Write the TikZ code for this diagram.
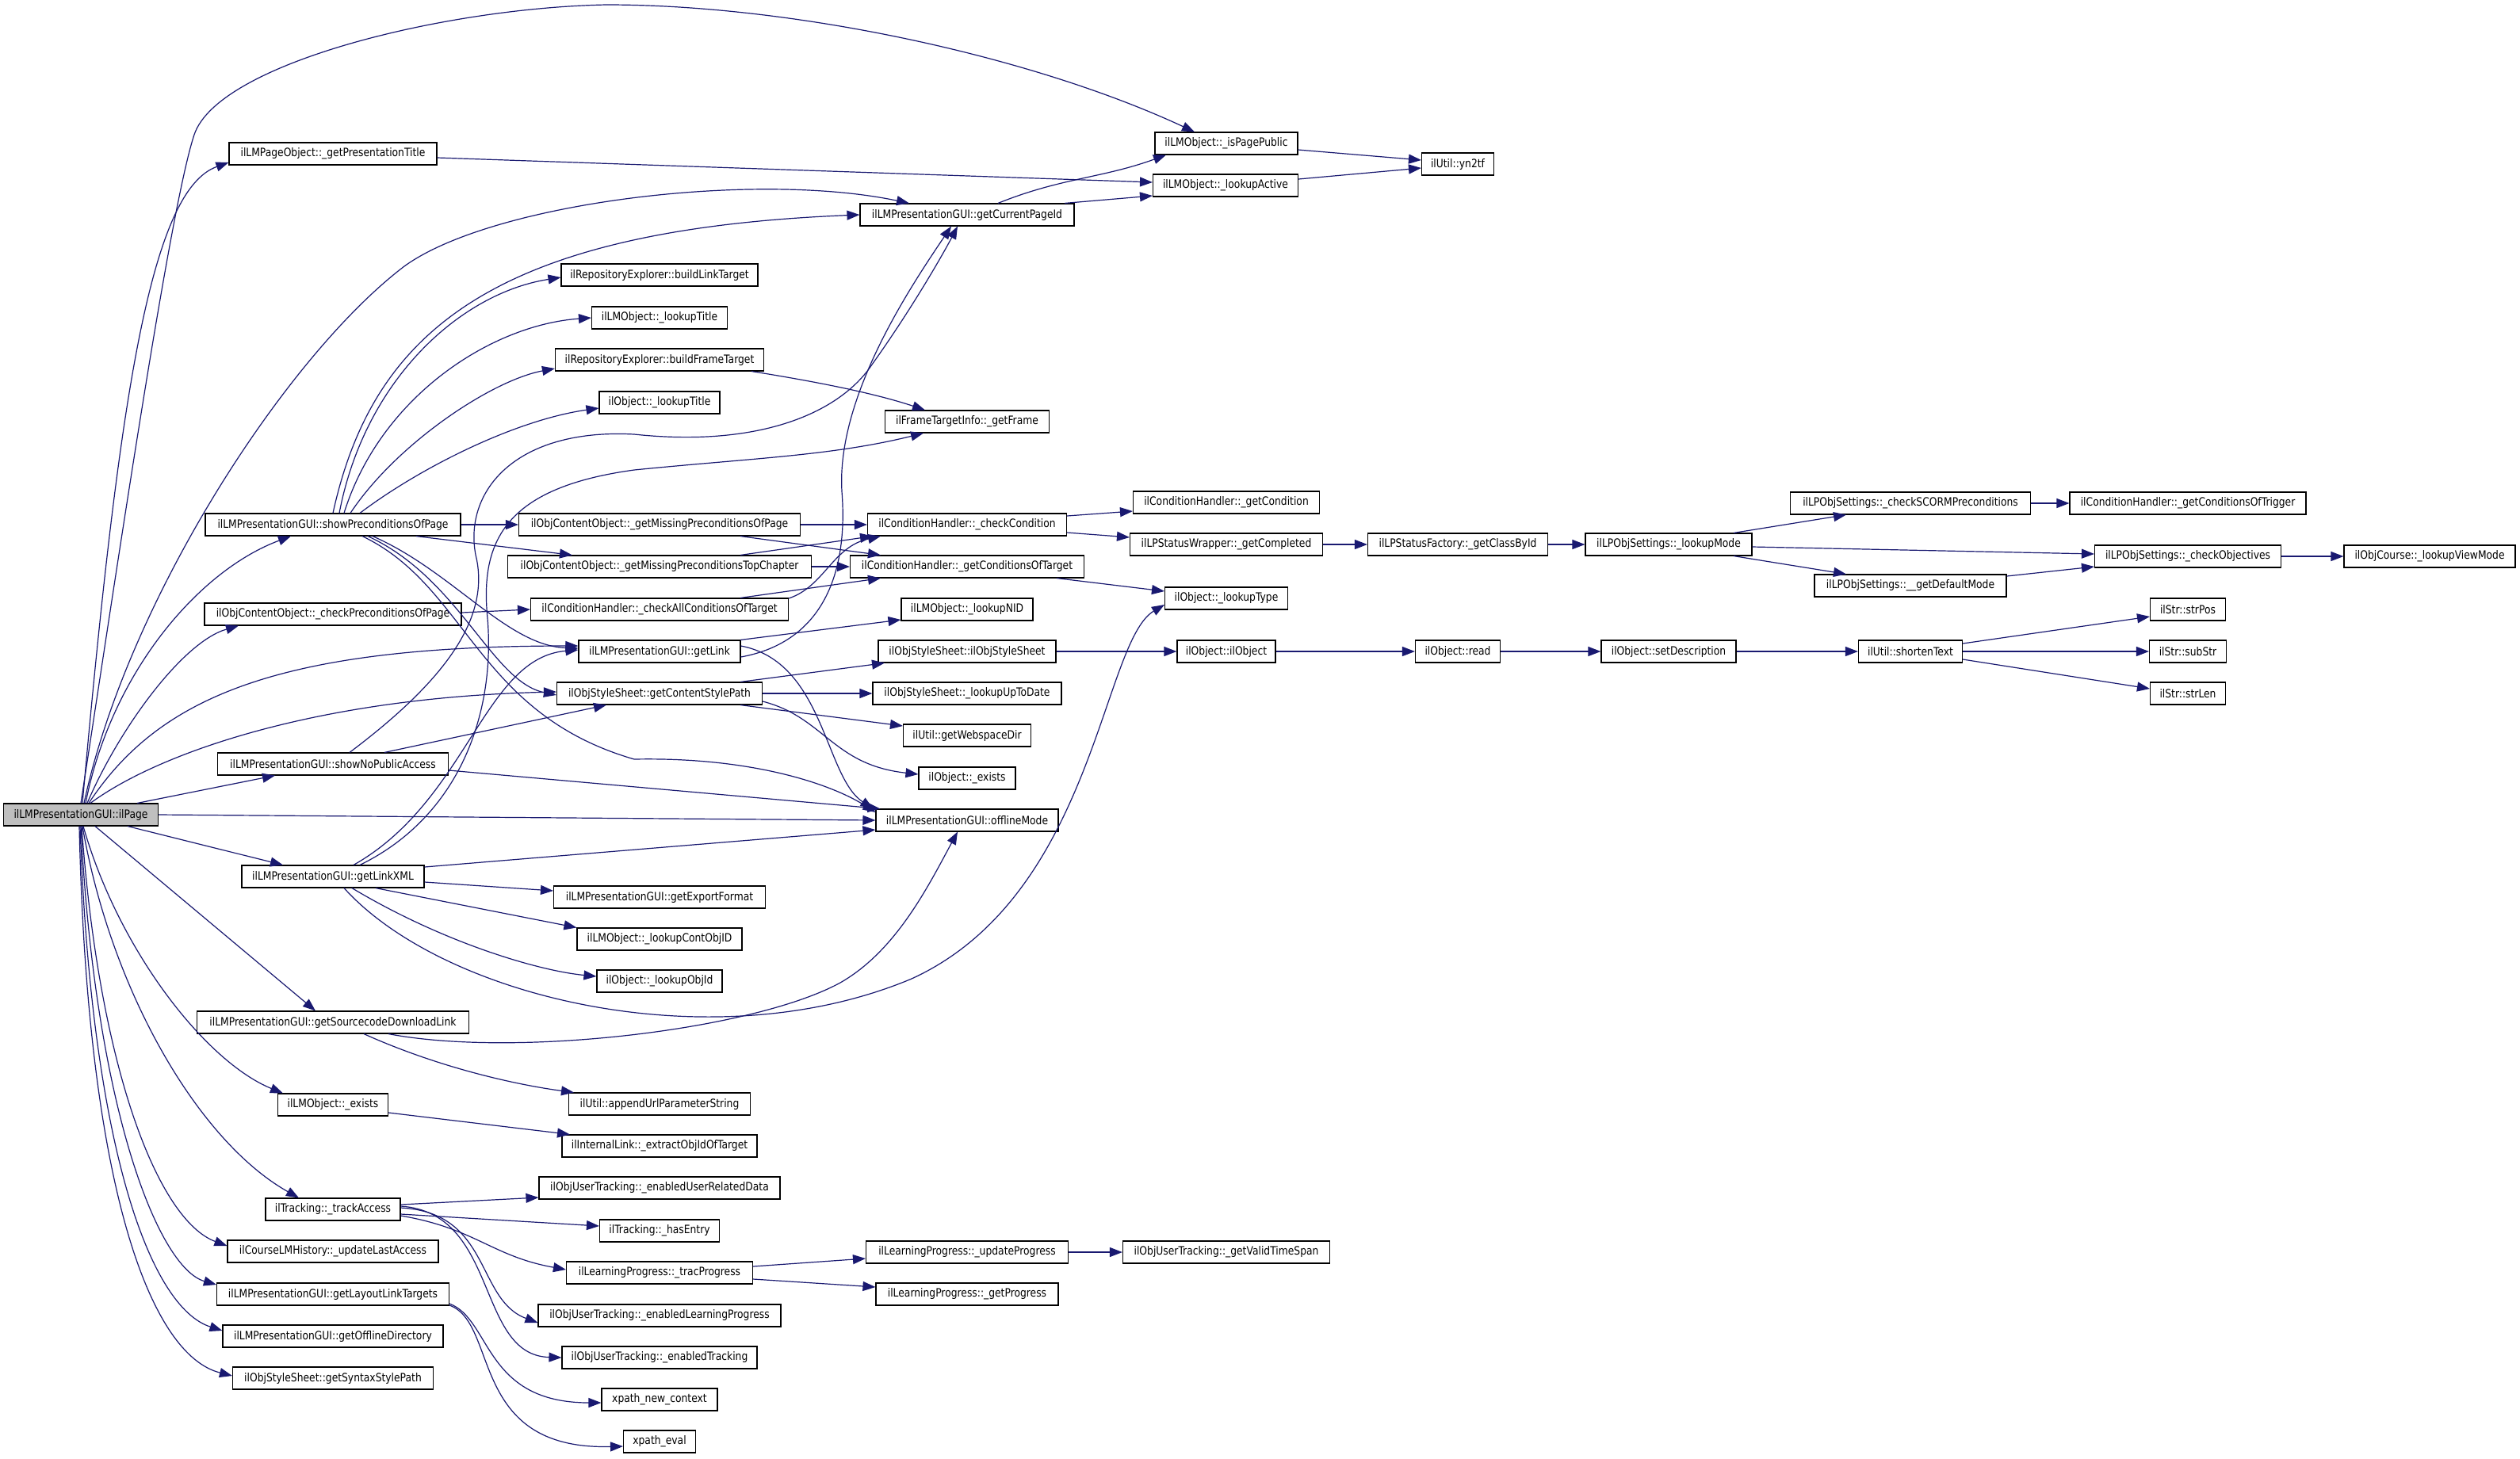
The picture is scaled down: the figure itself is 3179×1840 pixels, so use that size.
\documentclass[tikz,border=0pt]{standalone}
\usepackage{fontspec}
\setmainfont{DejaVu Sans}[FakeStretch=0.85]
\usetikzlibrary{arrows.meta}

\definecolor{callblue}{HTML}{191970}
\definecolor{curgray}{HTML}{BFBFBF}

\tikzset{
    fn/.style={rectangle, draw=black, line width=1.1pt, fill=white,
        minimum height=28pt, inner xsep=3pt, inner ysep=0pt,
        font=\fontsize{14.5}{16}\selectfont},
    cur/.style={fn, fill=curgray},
    call/.style={draw=callblue, line width=1.2pt,
        -{Triangle[length=16pt,width=12pt]}}
}

\begin{document}
\begin{tikzpicture}[x=1pt, y=-1pt]
    \useasboundingbox (0,0) rectangle (3179,1840);

    % caller
    \node[cur, minimum width=195pt] (ilpage) at (102,1028) {ilLMPresentationGUI::ilPage};

    % first level
    \node[fn, minimum width=262pt] (pgtitle) at (420,194) {ilLMPageObject::\_getPresentationTitle};
    \node[fn, minimum width=322pt] (showpre) at (420,662) {ilLMPresentationGUI::showPreconditionsOfPage};
    \node[fn, minimum width=324pt] (chkpre) at (420,775) {ilObjContentObject::\_checkPreconditionsOfPage};
    \node[fn, minimum width=291pt] (nopub) at (420,964) {ilLMPresentationGUI::showNoPublicAccess};
    \node[fn, minimum width=230pt] (linkxml) at (420,1106) {ilLMPresentationGUI::getLinkXML};
    \node[fn, minimum width=343pt] (srcdl) at (420,1290) {ilLMPresentationGUI::getSourcecodeDownloadLink};
    \node[fn, minimum width=139pt] (lmexists) at (420,1394) {ilLMObject::\_exists};
    \node[fn, minimum width=170pt] (track) at (420,1526) {ilTracking::\_trackAccess};
    \node[fn, minimum width=266pt] (lastacc) at (420,1579) {ilCourseLMHistory::\_updateLastAccess};
    \node[fn, minimum width=293pt] (layout) at (420,1633) {ilLMPresentationGUI::getLayoutLinkTargets};
    \node[fn, minimum width=278pt] (offdir) at (420,1686) {ilLMPresentationGUI::getOfflineDirectory};
    \node[fn, minimum width=253pt] (syntax) at (420,1739) {ilObjStyleSheet::getSyntaxStylePath};

    % second level
    \node[fn, minimum width=248pt] (blt) at (832,347) {ilRepositoryExplorer::buildLinkTarget};
    \node[fn, minimum width=171pt] (lmtitle) at (832,401) {ilLMObject::\_lookupTitle};
    \node[fn, minimum width=263pt] (bft) at (832,454) {ilRepositoryExplorer::buildFrameTarget};
    \node[fn, minimum width=152pt] (objtitle) at (832,508) {ilObject::\_lookupTitle};
    \node[fn, minimum width=355pt] (misspage) at (832,662) {ilObjContentObject::\_getMissingPreconditionsOfPage};
    \node[fn, minimum width=383pt] (misstop) at (832,715) {ilObjContentObject::\_getMissingPreconditionsTopChapter};
    \node[fn, minimum width=325pt] (chkall) at (832,769) {ilConditionHandler::\_checkAllConditionsOfTarget};
    \node[fn, minimum width=204pt] (getlink) at (832,822) {ilLMPresentationGUI::getLink};
    \node[fn, minimum width=259pt] (cstyle) at (832,875) {ilObjStyleSheet::getContentStylePath};
    \node[fn, minimum width=267pt] (expfmt) at (832,1132) {ilLMPresentationGUI::getExportFormat};
    \node[fn, minimum width=208pt] (contobj) at (832,1185) {ilLMObject::\_lookupContObjID};
    \node[fn, minimum width=158pt] (objid) at (832,1238) {ilObject::\_lookupObjId};
    \node[fn, minimum width=229pt] (appurl) at (832,1393) {ilUtil::appendUrlParameterString};
    \node[fn, minimum width=246pt] (extract) at (832,1446) {ilInternalLink::\_extractObjIdOfTarget};
    \node[fn, minimum width=304pt] (userdata) at (832,1499) {ilObjUserTracking::\_enabledUserRelatedData};
    \node[fn, minimum width=151pt] (hasentry) at (832,1553) {ilTracking::\_hasEntry};
    \node[fn, minimum width=235pt] (tracprog) at (832,1606) {ilLearningProgress::\_tracProgress};
    \node[fn, minimum width=306pt] (enlp) at (832,1660) {ilObjUserTracking::\_enabledLearningProgress};
    \node[fn, minimum width=246pt] (entrack) at (832,1713) {ilObjUserTracking::\_enabledTracking};
    \node[fn, minimum width=146pt] (xnew) at (832,1766) {xpath\_new\_context};
    \node[fn, minimum width=91pt] (xeval) at (832,1819) {xpath\_eval};

    % third level
    \node[fn, minimum width=270pt] (curpage) at (1220,271) {ilLMPresentationGUI::getCurrentPageId};
    \node[fn, minimum width=207pt] (frame) at (1220,532) {ilFrameTargetInfo::\_getFrame};
    \node[fn, minimum width=251pt] (chkcond) at (1220,662) {ilConditionHandler::\_checkCondition};
    \node[fn, minimum width=295pt] (condtgt) at (1220,715) {ilConditionHandler::\_getConditionsOfTarget};
    \node[fn, minimum width=166pt] (nid) at (1220,769) {ilLMObject::\_lookupNID};
    \node[fn, minimum width=224pt] (ssheet) at (1220,822) {ilObjStyleSheet::ilObjStyleSheet};
    \node[fn, minimum width=238pt] (uptodate) at (1220,875) {ilObjStyleSheet::\_lookupUpToDate};
    \node[fn, minimum width=161pt] (webdir) at (1220,928) {ilUtil::getWebspaceDir};
    \node[fn, minimum width=122pt] (objexists) at (1220,982) {ilObject::\_exists};
    \node[fn, minimum width=230pt] (offline) at (1220,1035) {ilLMPresentationGUI::offlineMode};
    \node[fn, minimum width=255pt] (updprog) at (1220,1580) {ilLearningProgress::\_updateProgress};
    \node[fn, minimum width=230pt] (getprog) at (1220,1633) {ilLearningProgress::\_getProgress};

    % further levels
    \node[fn, minimum width=180pt] (ispublic) at (1547,181) {ilLMObject::\_isPagePublic};
    \node[fn, minimum width=183pt] (active) at (1546,234) {ilLMObject::\_lookupActive};
    \node[fn, minimum width=235pt] (getcond) at (1547,634) {ilConditionHandler::\_getCondition};
    \node[fn, minimum width=243pt] (completed) at (1547,687) {ilLPStatusWrapper::\_getCompleted};
    \node[fn, minimum width=155pt] (lktype) at (1547,755) {ilObject::\_lookupType};
    \node[fn, minimum width=124pt] (ilobject) at (1547,822) {ilObject::ilObject};
    \node[fn, minimum width=261pt] (validts) at (1547,1580) {ilObjUserTracking::\_getValidTimeSpan};
    \node[fn, minimum width=91pt] (yn2tf) at (1839,207) {ilUtil::yn2tf};
    \node[fn, minimum width=227pt] (classid) at (1839,687) {ilLPStatusFactory::\_getClassById};
    \node[fn, minimum width=107pt] (objread) at (1839,822) {ilObject::read};
    \node[fn, minimum width=210pt] (lkmode) at (2105,687) {ilLPObjSettings::\_lookupMode};
    \node[fn, minimum width=170pt] (setdesc) at (2105,822) {ilObject::setDescription};
    \node[fn, minimum width=303pt] (scorm) at (2410,635) {ilLPObjSettings::\_checkSCORMPreconditions};
    \node[fn, minimum width=242pt] (defmode) at (2410,739) {ilLPObjSettings::\_\_getDefaultMode};
    \node[fn, minimum width=131pt] (shorten) at (2410,822) {ilUtil::shortenText};
    \node[fn, minimum width=298pt] (trigger) at (2760,635) {ilConditionHandler::\_getConditionsOfTrigger};
    \node[fn, minimum width=235pt] (objectives) at (2760,702) {ilLPObjSettings::\_checkObjectives};
    \node[fn, minimum width=95pt] (strpos) at (2760,769) {ilStr::strPos};
    \node[fn, minimum width=97pt] (substr) at (2760,822) {ilStr::subStr};
    \node[fn, minimum width=95pt] (strlen) at (2760,875) {ilStr::strLen};
    \node[fn, minimum width=216pt] (viewmode) at (3065,702) {ilObjCourse::\_lookupViewMode};

    % calls of ilPage
    \draw[call] (ilpage.north) .. controls (150,700) and (215,260) .. (245,170)
        .. controls (275,80) and (560,10) .. (765,6)
        .. controls (1000,6) and (1300,70) .. ([xshift=-40pt]ispublic.north);
    \draw[call] ([xshift=2pt]ilpage.north) .. controls (150,500) and (190,240) .. ([yshift=-11pt]pgtitle.west);
    \draw[call] ([xshift=4pt]ilpage.north) .. controls (160,760) and (360,450) .. (510,336)
        .. controls (620,256) and (950,215) .. ([xshift=-73pt]curpage.north);
    \draw[call] ([xshift=6pt]ilpage.north) .. controls (140,850) and (250,720) .. ([xshift=-53pt]showpre.south);
    \draw[call] ([xshift=8pt]ilpage.north) .. controls (150,920) and (230,810) .. ([xshift=-119pt]chkpre.south);
    \draw[call] ([xshift=10pt]ilpage.north) .. controls (200,880) and (350,815) .. ([yshift=7pt]getlink.west);
    \draw[call] ([xshift=12pt]ilpage.north) .. controls (200,950) and (400,880) .. ([yshift=2pt]cstyle.west);
    \draw[call] ([xshift=71pt]ilpage.north) -- ([xshift=-73pt]nopub.south);
    \draw[call] (ilpage.east) -- (offline.west);
    \draw[call] ([xshift=59pt]ilpage.south) -- ([xshift=-63pt]linkxml.north);
    \draw[call] ([xshift=18pt]ilpage.south) -- ([xshift=-22pt]srcdl.north);
    \draw[call] ([xshift=3pt]ilpage.south) .. controls (150,1200) and (260,1340) .. ([xshift=-63pt]lmexists.north);
    \draw[call] ([xshift=2pt]ilpage.south) .. controls (140,1250) and (250,1440) .. ([xshift=-43pt]track.north);
    \draw[call] ([xshift=1pt]ilpage.south) .. controls (125,1350) and (200,1540) .. ([yshift=7pt]lastacc.west);
    \draw[call] (ilpage.south) .. controls (120,1400) and (200,1600) .. ([yshift=12pt]layout.west);
    \draw[call] ([xshift=-1pt]ilpage.south) .. controls (115,1450) and (190,1650) .. ([yshift=7pt]offdir.west);
    \draw[call] ([xshift=-2pt]ilpage.south) .. controls (110,1500) and (190,1710) .. ([yshift=3pt]syntax.west);

    % page title and page id
    \draw[call] ([yshift=-5pt]pgtitle.east) -- ([yshift=4pt]active.west);
    \draw[call] ([xshift=39pt]curpage.north) to[out=22,in=200] ([xshift=-76pt]ispublic.south);
    \draw[call] ([xshift=123pt]curpage.north) -- ([yshift=-13pt]active.west);
    \draw[call] ([yshift=-8pt]ispublic.east) -- ([yshift=5pt]yn2tf.west);
    \draw[call] ([yshift=8pt]active.east) -- ([yshift=-5pt]yn2tf.west);

    % showPreconditionsOfPage
    \draw[call] (showpre.north) .. controls (470,420) and (620,290) .. (curpage.west);
    \draw[call] ([xshift=8pt]showpre.north) .. controls (460,480) and (580,370) .. ([yshift=-3pt]blt.west);
    \draw[call] ([xshift=14pt]showpre.north) .. controls (480,500) and (620,410) .. (lmtitle.west);
    \draw[call] ([xshift=22pt]showpre.north) .. controls (500,560) and (620,480) .. ([yshift=-11pt]bft.west);
    \draw[call] ([xshift=34pt]showpre.north) .. controls (530,590) and (650,530) .. ([yshift=-7pt]objtitle.west);
    \draw[call] (showpre.east) -- (misspage.west);
    \draw[call] ([xshift=105pt]showpre.south) -- ([xshift=-110pt]misstop.north);
    \draw[call] ([xshift=50pt]showpre.south) .. controls (570,720) and (640,815) .. ([yshift=4pt]getlink.west);
    \draw[call] ([xshift=44pt]showpre.south) .. controls (580,730) and (620,860) .. ([yshift=-2pt]cstyle.west);
    \draw[call] ([xshift=37pt]showpre.south) .. controls (590,740) and (600,900) .. (800,958)
        .. controls (950,955) and (1050,990) .. ([yshift=10pt]offline.west);

    % preconditions
    \draw[call] ([yshift=2pt]chkpre.east) -- (chkall.west);
    \draw[call] (misspage.east) -- (chkcond.west);
    \draw[call] ([xshift=102pt]misspage.south) -- ([xshift=-109pt]condtgt.north);
    \draw[call] ([xshift=102pt]misstop.north) -- ([xshift=-119pt]chkcond.south);
    \draw[call] (misstop.east) -- (condtgt.west);
    \draw[call] ([yshift=14pt]chkall.east) .. controls (1040,740) and (1050,690) .. ([xshift=-109pt]chkcond.south);
    \draw[call] ([xshift=102pt]chkall.north) -- ([xshift=-109pt]condtgt.south);
    \draw[call] ([yshift=11pt]chkcond.east) -- ([yshift=-11pt]getcond.west);
    \draw[call] ([yshift=-10pt]chkcond.east) -- ([yshift=9pt]completed.west);
    \draw[call] ([xshift=113pt]condtgt.south) -- ([yshift=9pt]lktype.west);

    % showNoPublicAccess
    \draw[call] ([xshift=21pt]nopub.north) .. controls (560,860) and (620,780) .. (600,700)
        .. controls (585,620) and (650,540) .. (800,548)
        .. controls (960,565) and (1060,520) .. (1100,460)
        .. controls (1150,390) and (1190,320) .. ([xshift=-12pt]curpage.south);
    \draw[call] ([xshift=65pt]nopub.north) -- ([xshift=-67pt]cstyle.south);
    \draw[call] ([yshift=-8pt]nopub.east) -- ([xshift=6pt]offline.north west);

    % getLinkXML
    \draw[call] ([xshift=26pt]linkxml.north) .. controls (590,1010) and (610,830) .. ([yshift=2pt]getlink.west);
    \draw[call] ([xshift=34pt]linkxml.north) .. controls (580,1030) and (625,900) .. (615,780)
        .. controls (605,680) and (640,615) .. (800,593)
        .. controls (950,578) and (1050,575) .. ([xshift=-55pt]frame.south);
    \draw[call] ([yshift=12pt]linkxml.east) -- ([yshift=-12pt]offline.west);
    \draw[call] ([yshift=-7pt]linkxml.east) -- ([yshift=8pt]expfmt.west);
    \draw[call] ([xshift=54pt]linkxml.south) -- (contobj.north west);
    \draw[call] ([xshift=24pt]linkxml.south) .. controls (560,1190) and (680,1225) .. ([yshift=6pt]objid.west);
    \draw[call] ([xshift=14pt]linkxml.south) .. controls (560,1260) and (900,1340) .. (1150,1235)
        .. controls (1380,1130) and (1390,810) .. ([yshift=-8pt]lktype.west);

    % getLink and frames
    \draw[call] ([xshift=102pt]getlink.north) -- ([yshift=-13pt]nid.west);
    \draw[call] ([yshift=7pt]getlink.east) .. controls (1040,835) and (1040,980) .. ([xshift=-3pt]offline.north west);
    \draw[call] ([yshift=-7pt]getlink.east) .. controls (1040,810) and (1070,720) .. (1062,620)
        .. controls (1055,500) and (1150,360) .. ([xshift=-20pt]curpage.south);
    \draw[call] ([xshift=116pt]bft.south) .. controls (1020,480) and (1100,495) .. ([xshift=-53pt]frame.north);

    % source code link
    \draw[call] ([xshift=70pt]srcdl.south) .. controls (650,1335) and (950,1300) .. (1060,1240)
        .. controls (1130,1200) and (1170,1120) .. ([xshift=-12pt]offline.south);
    \draw[call] ([xshift=39pt]srcdl.south) .. controls (560,1350) and (660,1370) .. ([xshift=-108pt]appurl.north);
    \draw[call] ([yshift=-10pt]lmexists.east) -- ([xshift=-113pt]extract.north);

    % style sheets
    \draw[call] ([xshift=102pt]cstyle.north) -- ([xshift=-104pt]ssheet.south);
    \draw[call] (cstyle.east) -- (uptodate.west);
    \draw[call] ([xshift=102pt]cstyle.south) -- ([yshift=12pt]webdir.west);
    \draw[call] ([yshift=-10pt]cstyle.east) .. controls (1040,905) and (1050,965) .. ([yshift=5pt]objexists.west);
    \draw[call] (ssheet.east) -- (ilobject.west);
    \draw[call] (ilobject.east) -- (objread.west);
    \draw[call] (objread.east) -- (setdesc.west);
    \draw[call] (setdesc.east) -- (shorten.west);
    \draw[call] ([yshift=10pt]shorten.east) -- ([yshift=-9pt]strpos.west);
    \draw[call] (shorten.east) -- (substr.west);
    \draw[call] ([yshift=-10pt]shorten.east) -- ([yshift=6pt]strlen.west);

    % learning progress status
    \draw[call] (completed.east) -- (classid.west);
    \draw[call] (classid.east) -- (lkmode.west);
    \draw[call] ([xshift=82pt]lkmode.north) -- ([xshift=-81pt]scorm.south);
    \draw[call] ([yshift=-3pt]lkmode.east) -- ([yshift=3pt]objectives.west);
    \draw[call] ([xshift=82pt]lkmode.south) -- ([xshift=-81pt]defmode.north);
    \draw[call] (scorm.east) -- (trigger.west);
    \draw[call] ([yshift=12pt]defmode.east) -- ([yshift=-13pt]objectives.west);
    \draw[call] (objectives.east) -- (viewmode.west);

    % tracking
    \draw[call] ([yshift=6pt]track.east) -- ([yshift=-12pt]userdata.west);
    \draw[call] ([yshift=-6pt]track.east) -- ([yshift=6pt]hasentry.west);
    \draw[call] ([yshift=-8pt]track.east) .. controls (600,1550) and (620,1585) .. ([yshift=4pt]tracprog.west);
    \draw[call] ([yshift=2pt]track.east) .. controls (620,1530) and (600,1640) .. ([yshift=-9pt]enlp.west);
    \draw[call] ([yshift=4pt]track.east) .. controls (630,1530) and (600,1710) .. (entrack.west);
    \draw[call] ([yshift=8pt]tracprog.east) -- ([yshift=-8pt]updprog.west);
    \draw[call] ([yshift=-8pt]tracprog.east) -- ([yshift=9pt]getprog.west);
    \draw[call] (updprog.east) -- (validts.west);

    % layout targets
    \draw[call] ([yshift=-12pt]layout.east) .. controls (620,1665) and (610,1770) .. ([yshift=-4pt]xnew.west);
    \draw[call] ([yshift=-14pt]layout.east) .. controls (630,1670) and (590,1830) .. ([yshift=-6pt]xeval.west);
\end{tikzpicture}
\end{document}
